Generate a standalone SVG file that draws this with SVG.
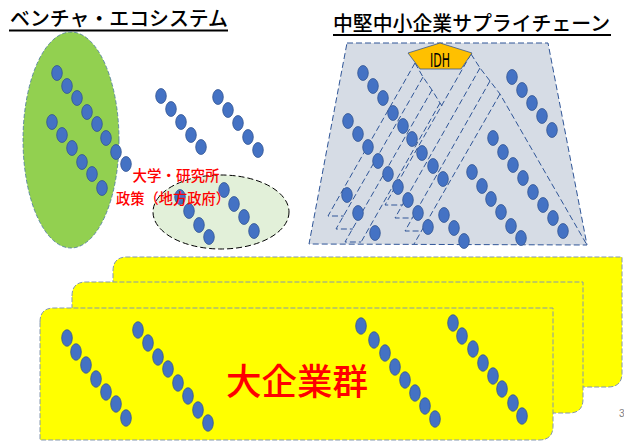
<svg xmlns="http://www.w3.org/2000/svg" xmlns:xlink="http://www.w3.org/1999/xlink" width="624" height="441" viewBox="0 0 624 441">
<style>
.title{font-family:"Noto Sans CJK JP","Noto Sans CJK SC",sans-serif;font-size:20px;font-weight:500;fill:#000}
.red{font-family:"Noto Sans CJK JP","Noto Sans CJK SC",sans-serif;font-weight:500;fill:#FF0000}
.dot{fill:#4472C4;stroke:#2F528F;stroke-width:0.75}
.card{fill:#FFFF00;stroke:#8497B0;stroke-width:1;stroke-dasharray:5 2}
.chain{fill:none;stroke:#2F5597;stroke-width:1;stroke-dasharray:6 3}
</style>
<defs>
<ellipse id="d" class="dot" cx="0" cy="0" rx="5.3" ry="7.5"/>
<ellipse id="b" class="dot" cx="0" cy="0" rx="5.3" ry="8.3"/>
</defs>
<rect width="624" height="441" fill="#FFFFFF"/>

<g id="title-venture">
<text class="title" x="10" y="26" textLength="218" lengthAdjust="spacingAndGlyphs">ベンチャ・エコシステム</text>
<line x1="9" y1="30.5" x2="228" y2="30.5" stroke="#000" stroke-width="2"/>
</g>
<g id="title-supply">
<text class="title" x="333" y="31" textLength="277" lengthAdjust="spacingAndGlyphs">中堅中小企業サプライチェーン</text>
<line x1="333" y1="35" x2="611" y2="35" stroke="#000" stroke-width="2"/>
</g>

<g id="large-companies">
<path class="card" d="M113,271 Q113,257 127,257 L622,257 L622,373 Q622,387 608,387 L113,387 Z"/>
<path class="card" d="M72,296 Q72,282 86,282 L583,282 L583,399 Q583,413 569,413 L72,413 Z"/>
<path class="card" d="M40,322 Q40,308 54,308 L553,308 L553,426 Q553,440 539,440 L40,440 Z"/>
<g>
<use href="#b" x="67" y="338"/><use href="#b" x="76" y="352"/><use href="#b" x="86" y="365"/><use href="#b" x="96" y="379"/><use href="#b" x="106" y="392"/><use href="#b" x="116" y="404"/><use href="#b" x="126" y="418"/>
<use href="#b" x="138" y="330"/><use href="#b" x="148" y="343"/><use href="#b" x="158" y="357"/><use href="#b" x="168" y="369"/><use href="#b" x="178" y="383"/><use href="#b" x="188" y="396"/><use href="#b" x="198" y="410"/><use href="#b" x="208" y="423"/>
<use href="#b" x="361" y="326"/><use href="#b" x="374" y="340"/><use href="#b" x="385" y="353"/><use href="#b" x="395" y="367"/><use href="#b" x="405" y="380"/><use href="#b" x="415" y="393"/><use href="#b" x="425" y="406"/><use href="#b" x="435" y="419"/>
<use href="#b" x="453" y="323"/><use href="#b" x="462" y="336"/><use href="#b" x="473" y="349"/><use href="#b" x="483" y="363"/><use href="#b" x="493" y="376"/><use href="#b" x="502" y="389"/><use href="#b" x="513" y="403"/><use href="#b" x="522" y="416"/>
</g>
<text class="red" x="297" y="395" font-size="36" text-anchor="middle" textLength="142" lengthAdjust="spacingAndGlyphs">大企業群</text>
</g>

<g id="venture-ecosystem">
<ellipse cx="71" cy="140" rx="48" ry="108" fill="#92D050" stroke="#41719C" stroke-width="0.75" stroke-dasharray="4 2"/>
<use href="#d" x="57" y="73"/><use href="#d" x="67" y="86"/><use href="#d" x="77" y="98"/><use href="#d" x="87" y="112"/><use href="#d" x="97" y="124"/><use href="#d" x="106" y="138"/><use href="#d" x="116" y="152"/><use href="#d" x="126" y="164"/>
<use href="#d" x="52" y="122"/><use href="#d" x="62" y="135"/><use href="#d" x="72" y="148"/><use href="#d" x="82" y="162"/><use href="#d" x="92" y="174"/><use href="#d" x="102" y="188"/>
</g>

<g id="startups">
<use href="#d" x="161" y="96"/><use href="#d" x="171" y="109"/><use href="#d" x="181" y="122"/><use href="#d" x="191" y="135"/><use href="#d" x="201" y="147"/>
<use href="#d" x="218" y="97"/><use href="#d" x="228" y="110"/><use href="#d" x="238" y="123"/><use href="#d" x="248" y="137"/><use href="#d" x="258" y="150"/>
</g>

<g id="university-policy">
<ellipse cx="221" cy="212" rx="68" ry="37" fill="#E2F0D9" stroke="#000000" stroke-width="1" stroke-dasharray="6 3"/>
<use href="#d" x="180" y="197"/><use href="#d" x="189" y="211"/><use href="#d" x="199" y="225"/><use href="#d" x="209" y="237"/>
<use href="#d" x="224" y="190"/><use href="#d" x="234" y="204"/><use href="#d" x="244" y="217"/><use href="#d" x="254" y="231"/>
<text class="red" x="176" y="181" font-size="14.5" text-anchor="middle" textLength="87" lengthAdjust="spacingAndGlyphs">大学・研究所</text>
<text class="red" x="173" y="204" font-size="14.5" text-anchor="middle" textLength="114" lengthAdjust="spacingAndGlyphs">政策（地方政府）</text>
</g>

<g id="supply-chain">
<polygon points="347,43 548,43 587,245 309,244" fill="#D6DCE5" stroke="#2F5597" stroke-width="1" stroke-dasharray="6 3"/>
<path class="chain" d="M415,63 L423,77 L432,90 L440,103 L442,106 M415,63 L328,216 L344,216 M423,77 L336,229 L353,229 M432,90 L345,242 L361,242 M440,103 L360,244"/>
<path class="chain" d="M471,54 L480,68 L490,81 L500,94 L587,245 M471,54 L385,205 L402,205 M480,68 L395,218 L412,218 M490,81 L405,231 L422,231 M500,94 L414,244"/>
<use href="#d" x="363" y="73"/><use href="#d" x="373" y="86"/><use href="#d" x="383" y="98"/><use href="#d" x="393" y="113"/><use href="#d" x="403" y="126"/><use href="#d" x="412" y="139"/><use href="#d" x="422" y="153"/><use href="#d" x="433" y="166"/><use href="#d" x="443" y="179"/>
<use href="#d" x="348" y="121"/><use href="#d" x="358" y="134"/><use href="#d" x="368" y="147"/><use href="#d" x="378" y="161"/><use href="#d" x="388" y="174"/><use href="#d" x="398" y="187"/><use href="#d" x="408" y="200"/><use href="#d" x="418" y="213"/><use href="#d" x="428" y="227"/>
<use href="#d" x="347" y="195"/><use href="#d" x="358" y="213"/><use href="#d" x="375" y="233"/>
<use href="#d" x="444" y="215"/><use href="#d" x="454" y="228"/><use href="#d" x="464" y="241"/>
<use href="#d" x="512" y="77"/><use href="#d" x="522" y="90"/><use href="#d" x="532" y="103"/><use href="#d" x="542" y="116"/><use href="#d" x="552" y="130"/>
<use href="#d" x="493" y="138"/><use href="#d" x="503" y="152"/><use href="#d" x="513" y="165"/><use href="#d" x="523" y="178"/><use href="#d" x="533" y="192"/><use href="#d" x="543" y="205"/><use href="#d" x="553" y="218"/><use href="#d" x="563" y="231"/>
<use href="#d" x="472" y="172"/><use href="#d" x="482" y="186"/><use href="#d" x="491" y="199"/><use href="#d" x="501" y="212"/><use href="#d" x="511" y="226"/><use href="#d" x="521" y="238"/>
</g>

<g id="idh">
<polygon points="440,43 472,53 461,69 420,69 408,53" fill="#FFC000" stroke="#2F528F" stroke-width="0.75"/>
<text x="440" y="67" font-family="'Liberation Sans Narrow','DejaVu Sans Condensed','Liberation Sans',sans-serif" font-size="19" text-anchor="middle" textLength="20" lengthAdjust="spacingAndGlyphs" fill="#000">IDH</text>
</g>

<g id="connectors"></g>

<text x="619" y="417" font-family="'Liberation Sans',sans-serif" font-size="10" fill="#7F7F7F">3</text>
</svg>
